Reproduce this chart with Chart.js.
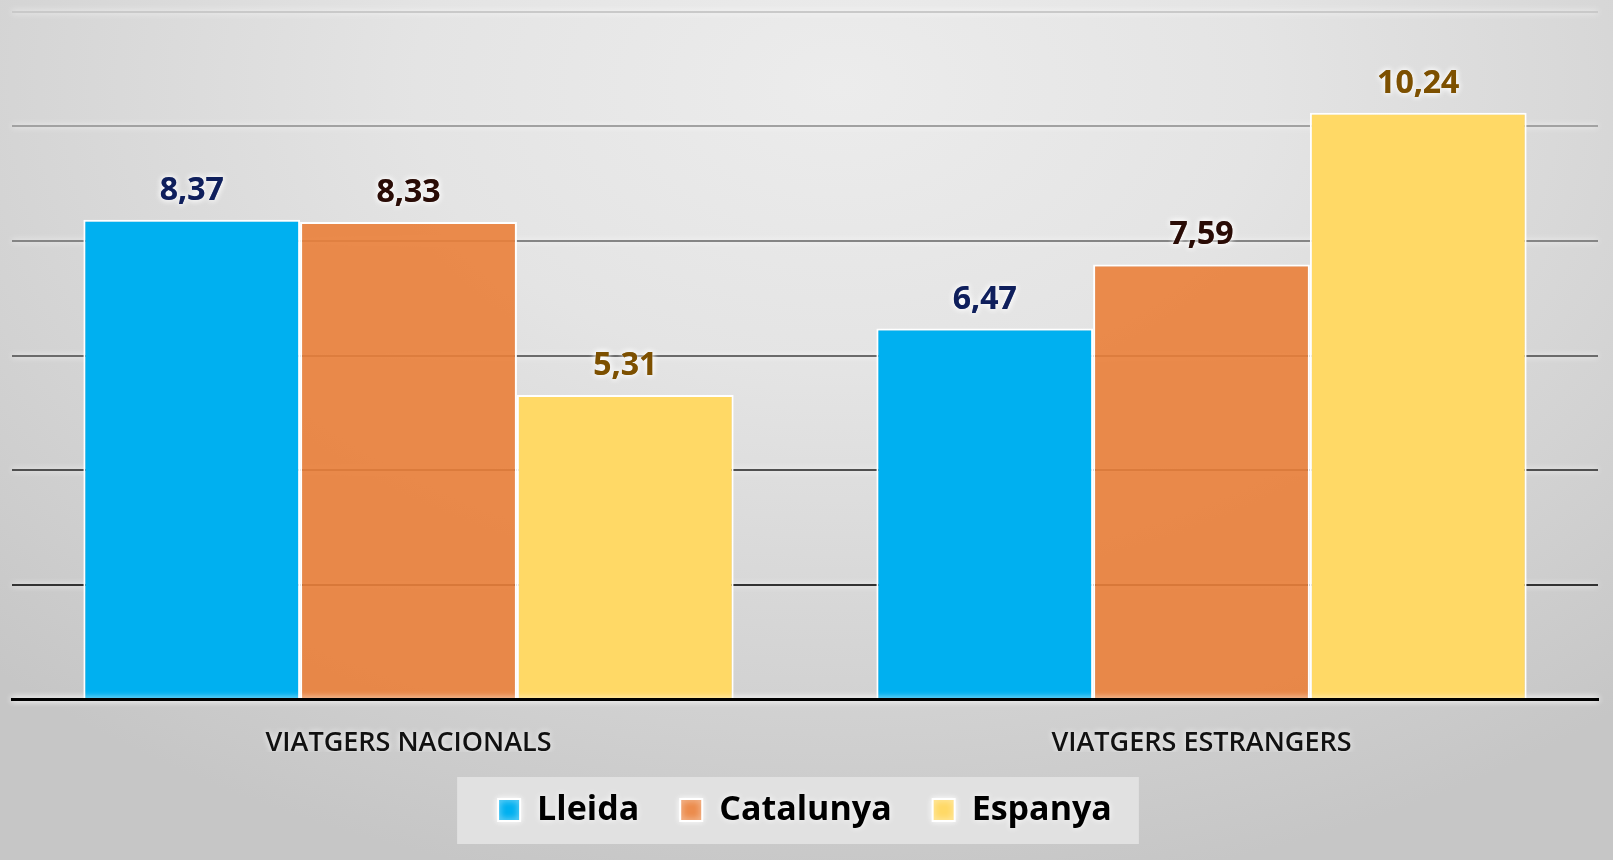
<!DOCTYPE html>
<html>
<head>
<meta charset="utf-8">
<script src="https://cdn.jsdelivr.net/npm/chart.js@4.4.1/dist/chart.umd.min.js"></script>
<style>
  html, body { margin: 0; padding: 0; }
  body {
    width: 1613px; height: 860px; overflow: hidden;
    background: radial-gradient(ellipse 75% 95% at 52% 10%, #ececec 0%, #e4e4e4 35%, #d2d2d2 75%, #c6c6c6 100%);
  }
  #wrap { position: relative; width: 1613px; height: 860px; }
</style>
</head>
<body>
<div id="wrap"><canvas id="chart"></canvas></div>
<script>
// dades: viatgers nacionals / estrangers
const categories = ['VIATGERS NACIONALS', 'VIATGERS ESTRANGERS'];
const seriesNames = ['Lleida', 'Catalunya', 'Espanya'];
const lleida    = [8.37, 6.47];
const catalunya = [8.33, 7.59];
const espanya   = [5.31, 10.24];

const barColors   = ['#00b0f0', 'rgba(234,128,58,0.9)', '#ffd966'];
const labelColors = ['#0f1f5c', '#2a0c06', '#7d5000'];
const gridColors  = { 0: '#000', 2: '#333', 4: '#4f4f4f', 6: '#6b6b6b', 8: '#858585', 10: '#a2a2a2', 12: '#c9c9c9' };

const fmt = v => v.toFixed(2).replace('.', ',');

// fons de la llegenda + halo blanc sobre textos i línies
const glowPlugin = {
  id: 'glowPlugin',
  beforeDraw(chart) {
    const ctx = chart.ctx;
    const hb = chart.legend && chart.legend.legendHitBoxes;
    if (hb && hb.length) {
      const first = hb[0], last = hb[hb.length - 1];
      const top = first.top + (first.height - 22) / 2 - 22;
      ctx.save();
      ctx.fillStyle = '#e1e1e1';
      ctx.fillRect(first.left - 41, top, last.left + last.width + 27 - (first.left - 41), 67);
      ctx.restore();
    }
    ctx.save();
    ctx.shadowColor = 'rgba(255,255,255,0.95)';
    ctx.shadowBlur = 6;
  },
  beforeDatasetsDraw(chart) {
    const ctx = chart.ctx;
    ctx.save();
    ctx.shadowColor = 'rgba(0,0,0,0)';
    ctx.shadowBlur = 0;
  },
  afterDatasetsDraw(chart) {
    const ctx = chart.ctx;
    ctx.restore();
    ctx.save();
    ctx.font = '700 32px "Open Sans"';
    ctx.textAlign = 'center';
    ctx.textBaseline = 'alphabetic';
    chart.data.datasets.forEach((ds, di) => {
      const meta = chart.getDatasetMeta(di);
      meta.data.forEach((bar, i) => {
        ctx.fillStyle = labelColors[di];
        for (let k = 0; k < 2; k++) ctx.fillText(fmt(ds.data[i]), bar.x, bar.y - 20);
      });
    });
    ctx.restore();
  },
  afterDraw(chart) {
    chart.ctx.restore();
  }
};

new Chart(document.getElementById('chart'), {
  type: 'bar',
  data: {
    labels: categories,
    datasets: [lleida, catalunya, espanya].map((d, i) => ({
      label: seriesNames[i],
      data: d,
      backgroundColor: barColors[i],
      borderColor: '#ffffff',
      borderWidth: 2,
      categoryPercentage: 0.82,
      barPercentage: 1.0
    }))
  },
  options: {
    responsive: true,
    maintainAspectRatio: false,
    animation: false,
    layout: { padding: { left: 12, right: 15, top: 12, bottom: 23 } },
    plugins: {
      tooltip: { enabled: false },
      legend: {
        position: 'bottom',
        labels: {
          boxWidth: 22, boxHeight: 22, padding: 41,
          color: '#000',
          font: { family: '"Open Sans"', size: 34, weight: '700' }
        }
      }
    },
    scales: {
      x: {
        grid: { display: false, drawTicks: false },
        border: { display: true, color: '#000', width: 3, z: 1 },
        ticks: { color: '#111', padding: 28, font: { family: '"Open Sans"', size: 27, weight: '600' } },
        afterFit: s => { s.height = 53; }
      },
      y: {
        min: 0, max: 12,
        ticks: { display: false, stepSize: 2 },
        border: { display: false },
        grid: {
          drawTicks: false, lineWidth: 2,
          color: c => gridColors[c.tick.value] || '#888'
        }
      }
    }
  },
  plugins: [glowPlugin]
});
</script>
</body>
</html>
